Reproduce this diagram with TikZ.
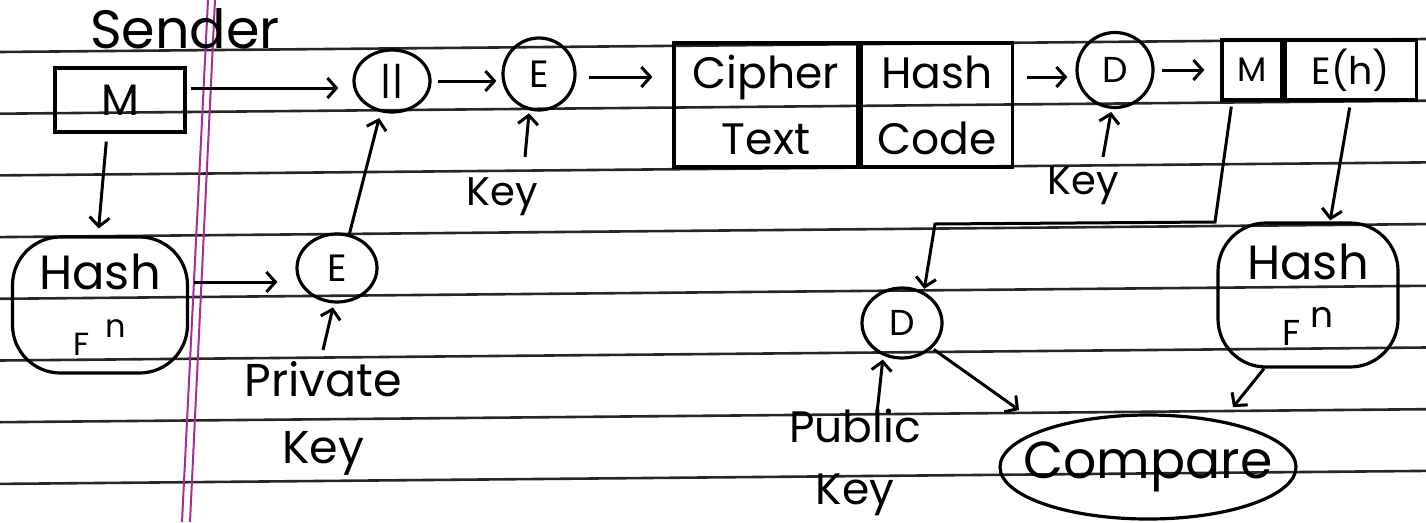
\documentclass[tikz,border=0pt]{standalone}
\usepackage{fontspec}
\setmainfont{Poppins}
\usetikzlibrary{arrows.meta,shapes.geometric}
\definecolor{marginpink}{RGB}{168,44,146}

\begin{document}
\begin{tikzpicture}[x=1pt,y=-1pt,
  ink/.style={line width=3.2pt, draw=black},
  arr/.style={line width=3pt, draw=black, -{Straight Barb[length=9pt,width=20pt]}},
  hand/.style={font=\fontsize{#1}{66}\selectfont},
  ring/.style={ink, ellipse, inner sep=0pt},
  cell/.style={ink, rectangle, inner sep=0pt},
  blob/.style={ink, rectangle, rounded corners=48pt, inner sep=0pt, align=center},
  lbl/.style={inner sep=0pt, align=center},
  rule/.style={line width=2.6pt, draw=black!85},
  marg/.style={line width=2pt, draw=marginpink}
]
\useasboundingbox (0,0) rectangle (1426,522);

% ruled notebook paper
\foreach \i in {0,...,7}
  \draw[rule] (0,{52+61.7*\i}) -- (1426,{39+61.7*\i});
\draw[marg] (208,0) -- (182,522);
\draw[marg] (215,0) -- (190,522);

% sender side
\node[lbl, hand=54] (sender) at (185,29) {Sender};
\node[cell, minimum width=130pt, minimum height=64pt, hand=44] (mbox) at (120,100) {M};
\node[ring, minimum width=76pt, minimum height=62pt, hand=38] (ii) at (392,81) {||};
\node[ring, minimum width=72pt, minimum height=72pt, hand=38] (e1) at (539,74) {E};
\node[cell, minimum width=184pt, minimum height=124pt, align=center, hand=44] (ct) at (766,105) {Cipher\\Text};
\node[cell, minimum width=151pt, minimum height=124pt, align=center, hand=44, anchor=west] (hc) at (ct.east) {Hash\\Code};
\node[lbl, hand=40] (key1) at (502,197) {Key};

\node[blob, minimum width=175pt, minimum height=136pt, hand=48] (hash1) at (100,305)
  {Hash\\{\fontsize{32}{32}\selectfont F\hspace{16pt}\raisebox{18pt}{n}}};
\node[ring, minimum width=80pt, minimum height=68pt, hand=38] (e2) at (337,268) {E};
\node[lbl, font=\fontsize{46}{67}\selectfont] (privkey) at (323,418) {Private\\Key};

% receiver side
\node[ring, minimum width=76pt, minimum height=75pt, hand=36] (d1) at (1115,70) {D};
\node[cell, minimum width=60pt, minimum height=60pt, hand=34] (m2) at (1252,70) {M};
\node[cell, minimum width=131pt, minimum height=60pt, hand=38, anchor=west] (eh) at (m2.east) {E(h)};
\node[lbl, hand=40] (key2) at (1083,186) {Key};

\node[ring, minimum width=80pt, minimum height=70pt, hand=36] (d2) at (902,323) {D};
\node[lbl, font=\fontsize{44}{62}\selectfont] (pubkey) at (855,462) {Public\\Key};
\node[blob, minimum width=180pt, minimum height=144pt, hand=48] (hash2) at (1308,295)
  {Hash\\{\fontsize{36}{36}\selectfont F\hspace{10pt}\raisebox{18pt}{n}}};
\node[ring, minimum width=296pt, minimum height=104pt, hand=52] (cmp) at (1148,467) {\makebox[0pt]{Compare}};

% free ends of the key arrows and junctions
\coordinate (k1) at (525,157);
\coordinate (k2) at (1103,157);
\coordinate (k3) at (323,350);
\coordinate (k4) at (877,413);
\coordinate (j1) at (1215,222);
\coordinate (j2) at (935,224);
\coordinate (cin) at (1019,410);

% sender flow
\draw[arr, shorten <=4pt, shorten >=14pt] ([yshift=12pt]mbox.east) -- ([yshift=12pt]mbox.east -| ii.west);
\draw[arr, shorten <=6pt, shorten >=5pt] (ii.east) -- (ii.east -| e1.west);
\draw[arr, shorten <=12pt, shorten >=20pt] ([yshift=-3pt]e1.east) -- ([yshift=-3pt]e1.east -| ct.west);
\draw[arr, shorten <=8pt, shorten >=7pt] ([xshift=-13pt]mbox.south) -- ([xshift=-2pt]hash1.north);
\draw[arr, shorten <=5pt, shorten >=18pt] ([yshift=23pt]hash1.east) -- ([yshift=23pt]hash1.east -| e2.west);
\draw[arr, shorten >=6pt] (e2.70) -- (ii.250);
\draw[arr, shorten >=3pt] (k1) -- (e1.255);
\draw[arr, shorten >=4pt] (k3) -- (e2.265);

% receiver flow
\draw[arr, shorten <=13pt, shorten >=8pt] ([yshift=-7pt]d1.west -| hc.east) -- ([yshift=-7pt]d1.west);
\draw[arr, shorten <=7pt, shorten >=16pt] (d1.east) -- (d1.east -| m2.west);
\draw[arr, shorten >=3pt] (k2) -- (d1.265);
\draw[arr, shorten <=5pt, shorten >=3pt] ([xshift=-20pt]m2.south) -- (j1) -- (j2) -- (d2.55);
\draw[arr, shorten <=6pt, shorten >=1pt] (eh.south) -- ([xshift=22pt]hash2.north);
\draw[arr, shorten >=4pt] (k4) -- (d2.240);
\draw[arr, shorten <=2pt] (d2.-40) -- (cin);
\draw[arr, shorten >=8pt] ([xshift=-44pt]hash2.south) -- ([xshift=80pt]cmp.north);
\end{tikzpicture}
\end{document}
